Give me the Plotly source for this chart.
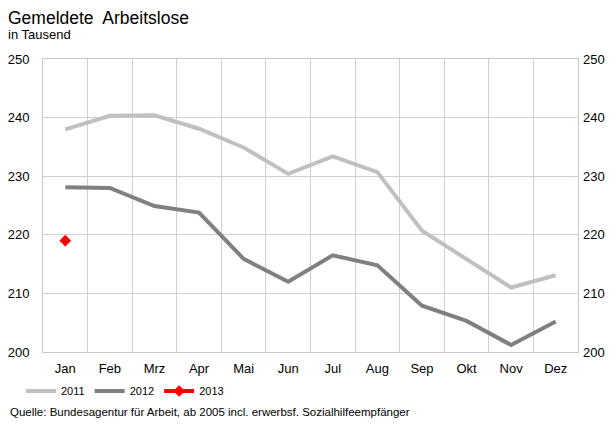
import plotly.graph_objects as go

months = ["Jan", "Feb", "Mrz", "Apr", "Mai", "Jun", "Jul", "Aug", "Sep", "Okt", "Nov", "Dez"]
v2011 = [238.0, 240.3, 240.4, 238.1, 234.9, 230.4, 233.4, 230.7, 220.7, 215.9, 211.0, 213.1]
v2012 = [228.1, 228.0, 224.9, 223.8, 215.9, 212.0, 216.5, 214.8, 207.9, 205.3, 201.2, 205.2]
v2013 = [219.0]
y_ticks = [200, 210, 220, 230, 240, 250]

fig = go.Figure()
fig.add_trace(go.Scatter(x=months, y=v2011, name="2011", mode="lines",
                         line=dict(color="#C0C0C0", width=4)))
fig.add_trace(go.Scatter(x=months, y=v2012, name="2012", mode="lines",
                         line=dict(color="#808080", width=4)))
fig.add_trace(go.Scatter(x=months[:1], y=v2013, name="2013", mode="lines+markers",
                         line=dict(color="#FF0000", width=4),
                         marker=dict(symbol="diamond", size=9, color="#FF0000")))
fig.add_trace(go.Scatter(x=months, y=v2011, yaxis="y2", showlegend=False,
                         hoverinfo="skip", line=dict(color="rgba(0,0,0,0)")))

# page offset of the plotly div inside the html body (default body margin)
OFF = 8
W, H = 607, 414
L, R, T = 43 - OFF, 37, 59 - OFF
B = H - (352 - OFF)
pw, ph = W - L - R, H - T - B

def px(x):
    return (x - OFF - L) / pw

def py(y):
    return (H - B - (y - OFF)) / ph

axis_font = dict(family="Liberation Sans, Arial, sans-serif", size=13, color="#000000")

fig.update_layout(
    width=W, height=H,
    margin=dict(l=L, r=R, t=T, b=B, autoexpand=False),
    paper_bgcolor="white", plot_bgcolor="white",
    font=axis_font,
    showlegend=True,
    legend=dict(orientation="h", xref="container", yref="container",
                x=(21 - OFF) / W, y=1 - (391 - OFF) / H, xanchor="left", yanchor="middle",
                font=dict(family="Liberation Sans, Arial, sans-serif", size=11),
                itemwidth=30, tracegroupgap=0,
                bgcolor="rgba(0,0,0,0)"),
    xaxis=dict(type="category", tickson="boundaries", ticks="", showgrid=True,
               gridcolor="#D0D0D0", gridwidth=1, showline=True, linecolor="#C8C8C8",
               linewidth=1, mirror=True, tickfont=axis_font, range=[-0.5, 11.5],
               ticklabelstandoff=4, automargin=False),
    yaxis=dict(range=[200, 250], tickvals=y_ticks, showgrid=True, gridcolor="#D0D0D0",
               gridwidth=1, showline=True, linecolor="#C8C8C8", linewidth=1, mirror=True,
               ticks="", tickfont=axis_font, ticklabelstandoff=10, zeroline=False,
               automargin=False),
    yaxis2=dict(range=[200, 250], tickvals=y_ticks, overlaying="y", side="right",
                showgrid=False, ticks="", tickfont=axis_font, ticklabelstandoff=4,
                zeroline=False, showline=False, automargin=False),
    annotations=[
        dict(text="Gemeldete  Arbeitslose", x=px(6), y=py(18), xref="paper", yref="paper",
             xanchor="left", yanchor="middle", showarrow=False,
             font=dict(family="Liberation Sans, Arial, sans-serif", size=17.5)),
        dict(text="in Tausend", x=px(6), y=py(35), xref="paper", yref="paper",
             xanchor="left", yanchor="middle", showarrow=False,
             font=dict(family="Liberation Sans, Arial, sans-serif", size=13)),
        dict(text="Quelle: Bundesagentur für Arbeit, ab 2005 incl. erwerbsf. Sozialhilfeempfänger",
             x=px(8), y=py(412), xref="paper", yref="paper",
             xanchor="left", yanchor="middle", showarrow=False,
             font=dict(family="Liberation Sans, Arial, sans-serif", size=11.5)),
    ],
)

fig.write_html("out.html")
